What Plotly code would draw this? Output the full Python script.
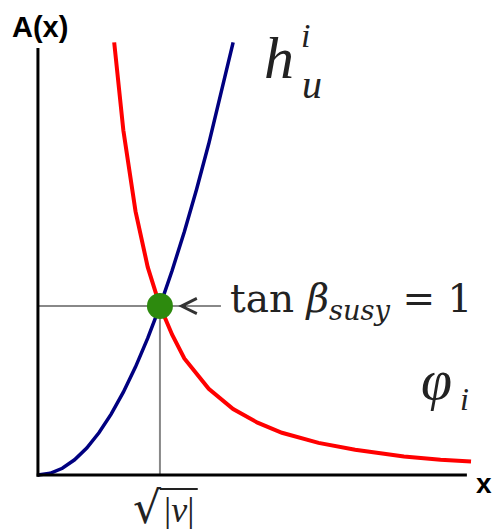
import plotly.graph_objects as go

# ### curve values (x in units of sqrt|nu|, A(x) in units of A at the crossing)
h_x = [0, 0.1, 0.2, 0.3, 0.4, 0.5, 0.6, 0.7, 0.8, 0.9, 1.0, 1.1, 1.2, 1.3, 1.4, 1.5, 1.6]
h_y = [0, 0.01, 0.04, 0.09, 0.16, 0.25, 0.36, 0.49, 0.64, 0.81, 1.0, 1.21, 1.44, 1.69, 1.96, 2.25, 2.56]

phi_x = [0.625, 0.7, 0.8, 0.9, 1.0, 1.1, 1.2, 1.4, 1.6, 1.8, 2.0, 2.3, 2.6, 3.0, 3.3, 3.55]
phi_y = [2.56, 2.04, 1.56, 1.23, 1.0, 0.83, 0.69, 0.51, 0.39, 0.31, 0.25, 0.19, 0.15, 0.11, 0.09, 0.08]

cross_x = [1.0]
cross_y = [1.0]

math_font = "DejaVu Serif"
ink = "#222222"

fig = go.Figure()

fig.add_trace(go.Scatter(x=h_x, y=h_y, mode="lines",
                         line=dict(color="#000080", width=3.5), hoverinfo="skip"))
fig.add_trace(go.Scatter(x=phi_x, y=phi_y, mode="lines",
                         line=dict(color="#ff0000", width=4), hoverinfo="skip"))
fig.add_trace(go.Scatter(x=cross_x, y=cross_y, mode="markers",
                         marker=dict(color="#2d8a0e", size=26), hoverinfo="skip"))

# ## axes drawn by hand (arrow-less black lines)
fig.add_shape(type="line", x0=0, x1=0, y0=-0.01, y1=2.527, line=dict(color="black", width=3))
fig.add_shape(type="line", x0=-0.01, x1=3.516, y0=0, y1=0, line=dict(color="black", width=3))
# ## gray guide lines to the crossing
fig.add_shape(type="line", x0=1, x1=1, y0=0, y1=1, layer="below", line=dict(color="#888888", width=2))
fig.add_shape(type="line", x0=0, x1=1.5, y0=1, y1=1, layer="below", line=dict(color="#888888", width=2))
# overline of the square root
fig.add_shape(type="line", x0=1.0, x1=1.31, y0=-0.083, y1=-0.083, line=dict(color=ink, width=2))

fig.add_annotation(x=1.15, y=1, ax=1.22, ay=1, axref="x", ayref="y", text="",
                   showarrow=True, arrowhead=5, arrowsize=1.5, arrowwidth=2, arrowcolor="#333333")

def label(x, y, text, size, font=math_font, anchor="center", color=ink):
    fig.add_annotation(x=x, y=y, text=text, showarrow=False, xanchor=anchor, yanchor="middle",
                       font=dict(family=font, size=size, color=color))

label(0.016, 2.65, "<b>A(x)</b>", 29, font="Liberation Sans", color="black")
label(3.66, -0.05, "<b>x</b>", 28, font="Liberation Sans", color="black")
label(1.975, 2.47, "<i>h</i>", 60, font="Liberation Serif")
label(2.25, 2.31, "<i>u</i>", 40, font="Liberation Serif")
label(2.197, 2.6, "<i>i</i>", 34, font="Liberation Serif")
label(1.557, 1.03, "tan <i>β</i><sub><i>susy</i></sub> = 1", 39, anchor="left")
label(3.27, 0.56, "<i>φ</i>", 56, font="Liberation Serif")
label(3.5, 0.45, "<i>i</i>", 32, font="Liberation Serif")
label(1.03, -0.19, "√", 44, anchor="right")
label(1.02, -0.205, "|<i>ν</i>|", 36, anchor="left", font="Liberation Serif")

fig.update_layout(
    width=493, height=529,
    margin=dict(l=0, r=0, t=0, b=0),
    paper_bgcolor="white", plot_bgcolor="white",
    showlegend=False,
    xaxis=dict(range=[-0.311, 3.730], visible=False, fixedrange=True),
    yaxis=dict(range=[-0.3195, 2.811], visible=False, fixedrange=True),
)

# page body has an 8px default margin; drop it so the figure sits at the window corner
fig.write_html("out.html", config={"displayModeBar": False},
               post_script="document.body.style.margin='0';")
